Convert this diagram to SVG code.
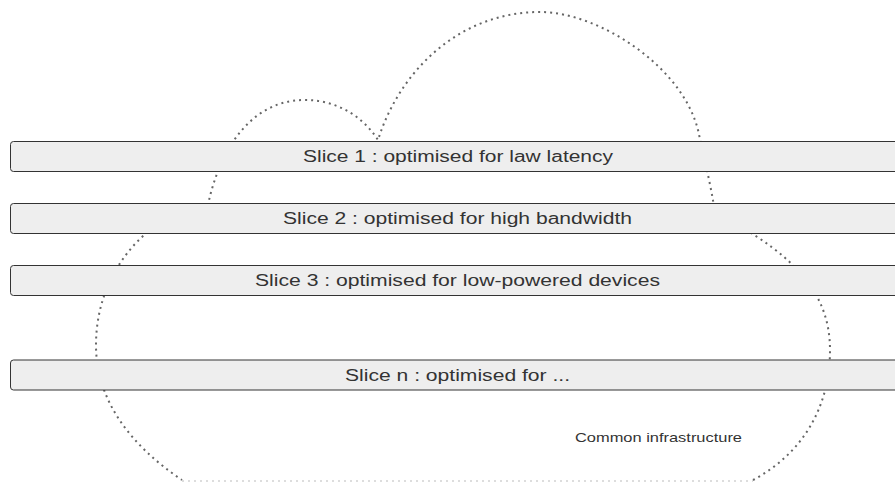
<svg xmlns="http://www.w3.org/2000/svg" width="895" height="482" viewBox="0 0 895 482">
<style>
.slice{fill:#eeeeee;stroke:#333333;stroke-width:1}
.lbl{font-family:"Liberation Sans",Arial,sans-serif;font-size:16px;fill:#333333;text-anchor:middle}
.cloud{fill:none;stroke:#666666;stroke-width:2;stroke-dasharray:2 4}
.small{font-family:"Liberation Sans",Arial,sans-serif;font-size:13.5px;fill:#333333}
</style>
<rect width="895" height="482" fill="#ffffff"/>
<g id="cloud">
<path class="cloud" d="M 753 480 C 800 455 830 410 830 350 C 830 290 790 255 733 222 L 716 222 C 714 200 706 165 700 140 C 690 70 600 12 540 12 C 460 12 400 70 378 140 C 362 115 335 100 305 100 C 240 100 212 170 205 222 L 170 222 C 160 225 152 228 143 236 C 115 262 96 300 96 345 C 96 400 130 445 182 480"/>
<line x1="182" y1="481" x2="753" y2="481" stroke="#dddddd" stroke-width="2" stroke-dasharray="2 4"/>
<text class="small" x="575" y="442" textLength="167" lengthAdjust="spacingAndGlyphs">Common infrastructure</text>
</g>
<g id="slice1">
<rect class="slice" x="10.5" y="141.5" width="895" height="30" rx="3"/>
<text class="lbl" x="458" y="162" textLength="310" lengthAdjust="spacingAndGlyphs">Slice 1 : optimised for law latency</text>
</g>
<g id="slice2">
<rect class="slice" x="10.5" y="203.5" width="895" height="30" rx="3"/>
<text class="lbl" x="457.5" y="224" textLength="349" lengthAdjust="spacingAndGlyphs">Slice 2 : optimised for high bandwidth</text>
</g>
<g id="slice3">
<rect class="slice" x="10.5" y="265.5" width="895" height="30" rx="3"/>
<text class="lbl" x="457.5" y="286" textLength="405" lengthAdjust="spacingAndGlyphs">Slice 3 : optimised for low-powered devices</text>
</g>
<g id="slicen">
<rect class="slice" x="10.5" y="360" width="895" height="30" rx="3"/>
<text class="lbl" x="457.5" y="380.5" textLength="225" lengthAdjust="spacingAndGlyphs">Slice n : optimised for ...</text>
</g>
</svg>
